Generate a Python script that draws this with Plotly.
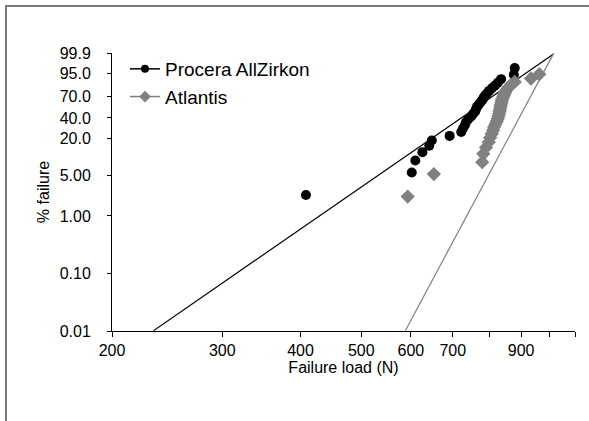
import math
import plotly.graph_objects as go

# ---- data ----
procera_load = [408, 602, 610, 626, 642, 648, 692, 722, 727, 732, 735, 741, 749, 754, 760,
                762, 765, 770, 775, 780, 784, 788, 794, 800, 808, 817, 826, 836, 876, 879]
procera_fail = [2.30, 5.59, 8.88, 12.17, 15.46, 18.75, 22.04, 25.33, 28.62, 31.91, 35.20,
                38.49, 41.78, 45.07, 48.36, 51.64, 54.93, 58.22, 61.51, 64.80, 68.09, 71.38,
                74.67, 77.96, 81.25, 84.54, 87.83, 91.12, 94.41, 97.70]

atlantis_load = [593, 653, 780, 783, 791, 799, 803, 808, 812, 815, 819, 823, 826, 828, 830,
                 831, 833, 834, 835, 837, 838, 840, 843, 846, 849, 853, 859, 867, 879, 933, 962]
atlantis_fail = [2.16, 5.25, 8.33, 11.42, 14.51, 17.59, 20.68, 23.77, 26.85, 29.94, 33.02,
                 36.11, 39.20, 42.28, 45.37, 48.46, 51.54, 54.63, 57.72, 60.80, 63.89, 66.98,
                 70.06, 73.15, 76.23, 79.32, 82.41, 85.49, 88.58, 91.67, 94.75]

# Weibull fit lines: modulus, characteristic load, load span of the drawn line
procera_fit = dict(m=7.54, eta=789, span=[233, 1014])
atlantis_fit = dict(m=20.4, eta=923, span=[588, 1014])

y_tick_pct = [0.01, 0.10, 1.00, 5.00, 20.0, 40.0, 70.0, 95.0, 99.9]
y_tick_txt = ["0.01", "0.10", "1.00", "5.00", "20.0", "40.0", "70.0", "95.0", "99.9"]
x_tick_vals = [200, 300, 400, 500, 600, 700, 800, 900, 1000, 1097]
x_tick_txt = ["200", "300", "400", "500", "600", "700", "", "900", "", ""]


def weib(p):
    f = p / 100.0
    return math.log(-math.log(1.0 - f))


def fit_line(fit):
    xs = fit["span"]
    ys = [fit["m"] * math.log(x / fit["eta"]) for x in xs]
    return xs, ys


FONT = "Liberation Sans, Arial, sans-serif"
GRAY = "#808080"

fig = go.Figure()

px_, py_ = fit_line(procera_fit)
ax_, ay_ = fit_line(atlantis_fit)
fig.add_trace(go.Scatter(x=px_, y=py_, mode="lines", line=dict(color="black", width=1.2),
                         showlegend=False, hoverinfo="skip"))
fig.add_trace(go.Scatter(x=ax_, y=ay_, mode="lines", line=dict(color=GRAY, width=1.2),
                         showlegend=False, hoverinfo="skip"))

fig.add_trace(go.Scatter(
    x=procera_load, y=[weib(v) for v in procera_fail], mode="markers",
    name="Procera AllZirkon",
    marker=dict(symbol="circle", size=10, color="black"),
    showlegend=False))
fig.add_trace(go.Scatter(
    x=atlantis_load, y=[weib(v) for v in atlantis_fail], mode="markers",
    name="Atlantis",
    marker=dict(symbol="diamond", size=11, color=GRAY),
    showlegend=False))

# legend entries (line + marker, as in the original)
fig.add_trace(go.Scatter(x=[None], y=[None], mode="lines+markers", name="Procera AllZirkon",
                         line=dict(color="black", width=1.5),
                         marker=dict(symbol="circle", size=8, color="black")))
fig.add_trace(go.Scatter(x=[None], y=[None], mode="lines+markers", name="Atlantis",
                         line=dict(color=GRAY, width=1.5),
                         marker=dict(symbol="diamond", size=9, color=GRAY)))

L, R, T, B = 112, 14, 53, 90
W, H = 589, 421
pw, ph = W - L - R, H - T - B


def pxx(X):
    return (X - L) / pw


def pxy(Y):
    return (H - B - Y) / ph


fig.update_layout(
    width=W, height=H,
    margin=dict(l=L, r=R, t=T, b=B),
    paper_bgcolor="white", plot_bgcolor="white",
    font=dict(family=FONT, size=16, color="black"),
    legend=dict(x=pxx(125), y=pxy(50), xanchor="left", yanchor="top",
                font=dict(size=19), bgcolor="rgba(0,0,0,0)", tracegroupgap=0),
    xaxis=dict(type="log", range=[math.log10(200), math.log10(1097)],
               tickvals=x_tick_vals, ticktext=x_tick_txt,
               ticks="outside", ticklen=5, tickcolor="black",
               showline=True, linecolor="black", linewidth=1,
               showgrid=False, zeroline=False,
               title=dict(text="Failure load (N)", font=dict(size=16), standoff=3)),
    yaxis=dict(range=[weib(0.01), weib(99.9)],
               tickvals=[weib(v) for v in y_tick_pct], ticktext=y_tick_txt,
               ticks="outside", ticklen=4, tickcolor="black",
               showline=True, linecolor="black", linewidth=1,
               showgrid=False, zeroline=False, ticklabelstandoff=13,
               title=dict(text="% failure", font=dict(size=16), standoff=6)),
    shapes=[dict(type="path", xref="paper", yref="paper",
                 path=f"M {pxx(6)},{pxy(440)} L {pxx(6)},{pxy(6)} L {pxx(620)},{pxy(6)}",
                 line=dict(color="#787878", width=2))],
)

fig.write_html("out.html", config={"displayModeBar": False},
               post_script="document.body.style.margin='0';")
